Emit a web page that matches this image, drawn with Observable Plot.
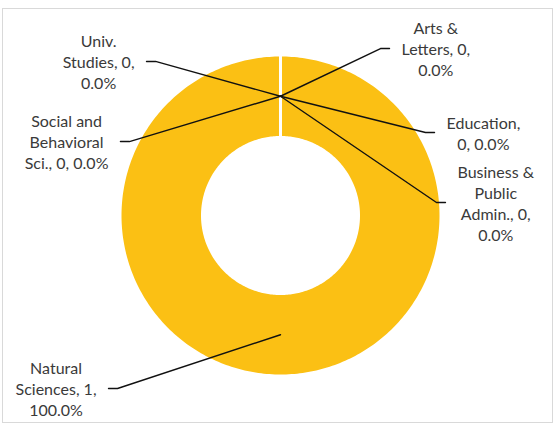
<!DOCTYPE html>
<html>
<head>
<meta charset="utf-8">
<script src="https://cdn.jsdelivr.net/npm/d3@7"></script>
<script src="https://cdn.jsdelivr.net/npm/@observablehq/plot@0.6"></script>
<style>
  html, body { margin: 0; padding: 0; background: #fff; }
  #wrap { position: relative; width: 553px; height: 431px; overflow: hidden; }
  #border { position: absolute; left: 2px; top: 8px; width: 551px; height: 415px;
            box-sizing: border-box; border: 1px solid #d9d9d9; pointer-events: none; }
</style>
</head>
<body>
<div id="wrap"><div id="border"></div></div>
<script>
// ---- data ----
const categories = ["Arts & Letters", "Business & Public Admin.", "Education", "Natural Sciences", "Social and Behavioral Sci.", "Univ. Studies"];
const values = [0, 0, 0, 1, 0, 0];

// ---- label layout (elbow point in radius units, side of the label) ----
const labelLayout = {
  "Arts & Letters":             {elbow: [0.629, 1.050], side: 1},
  "Business & Public Admin.":   {elbow: [0.981, 0.082], side: 1},
  "Education":                  {elbow: [0.912, 0.522], side: 1},
  "Natural Sciences":           {elbow: [-1.025, -1.088], side: -1},
  "Social and Behavioral Sci.": {elbow: [-0.950, 0.465], side: -1},
  "Univ. Studies":              {elbow: [-0.786, 0.969], side: -1}
};

const W = 553, H = 431;
const margin = {left: 121, right: 114, top: 56, bottom: 57};
const ppu = (W - margin.left - margin.right) / 2; // pixels per radius unit
const R_OUT = 1, R_IN = 0.5, R_MID = 0.75;
const FONT_SIZE = 16, LINE_PX = 21, FONT = "Lato";
const SEG_PX = 9, GAP_PX = 12, WRAP_PX = 86;
const yellow = "#FBC014";

const polar = (r, a) => [r * Math.sin(a), r * Math.cos(a)];
const total = d3.sum(values);
const arcs = d3.pie().sort(null).startAngle(0).endAngle(2 * Math.PI)(values);

// ring polygons
const ring = [];
arcs.forEach((a, i) => {
  const n = Math.max(2, Math.ceil((a.endAngle - a.startAngle) / (Math.PI / 180)) + 1);
  const outer = [], inner = [];
  for (let k = 0; k < n; k++) {
    const t = a.startAngle + (a.endAngle - a.startAngle) * k / (n - 1);
    outer.push(polar(R_OUT, t));
    inner.push(polar(R_IN, t));
  }
  inner.reverse();
  [...outer, ...inner].forEach(([x, y]) => ring.push({cat: categories[i], x, y}));
});

// slice separators
const seps = arcs.map(a => {
  const [x1, y1] = polar(R_IN - 0.01, a.startAngle);
  const [x2, y2] = polar(R_OUT + 0.01, a.startAngle);
  return {x1, y1, x2, y2};
});

// text measurement & wrapping
const ctx = document.createElement("canvas").getContext("2d");
ctx.font = `${FONT_SIZE}px ${FONT}`;
const measure = s => ctx.measureText(s).width;
function wrap(s) {
  const words = s.split(" ");
  const lines = [];
  let cur = "";
  for (const w of words) {
    const t = cur ? cur + " " + w : w;
    if (cur && measure(t) > WRAP_PX) { lines.push(cur); cur = w; } else cur = t;
  }
  if (cur) lines.push(cur);
  return lines;
}

const pct = d3.format(".1%");
const leaders = [];
const labels = [];
arcs.forEach((a, i) => {
  const cat = categories[i];
  const L = labelLayout[cat];
  const mid = (a.startAngle + a.endAngle) / 2;
  const [sx, sy] = polar(R_MID, mid);
  const [ex, ey] = L.elbow;
  const endX = ex + L.side * SEG_PX / ppu;
  leaders.push({cat, x: sx, y: sy}, {cat, x: ex, y: ey}, {cat, x: endX, y: ey});
  const lines = wrap(`${cat}, ${values[i]}, ${pct(values[i] / total)}`);
  const w = d3.max(lines, measure);
  labels.push({
    cat,
    text: lines.join("\n"),
    x: endX + L.side * (GAP_PX + w / 2) / ppu,
    y: ey
  });
});

const chart = Plot.plot({
  width: W,
  height: H,
  marginLeft: margin.left,
  marginRight: margin.right,
  marginTop: margin.top,
  marginBottom: margin.bottom,
  x: {domain: [-1, 1], axis: null},
  y: {domain: [-1, 1], axis: null},
  style: {fontFamily: FONT, background: "transparent", overflow: "visible"},
  marks: [
    Plot.line(ring, {x: "x", y: "y", z: "cat", fill: yellow, stroke: "none", curve: "linear-closed"}),
    Plot.link(seps, {x1: "x1", y1: "y1", x2: "x2", y2: "y2", stroke: "white", strokeWidth: 3}),
    Plot.line(leaders, {x: "x", y: "y", z: "cat", stroke: "#111", strokeWidth: 1.4}),
    Plot.text(labels, {
      x: "x", y: "y", text: "text",
      textAnchor: "middle", lineAnchor: "middle",
      fontSize: FONT_SIZE, lineHeight: LINE_PX / FONT_SIZE,
      fill: "#3a3a3a", fontFamily: FONT
    })
  ]
});
document.getElementById("wrap").insertBefore(chart, document.getElementById("border"));
</script>
</body>
</html>
